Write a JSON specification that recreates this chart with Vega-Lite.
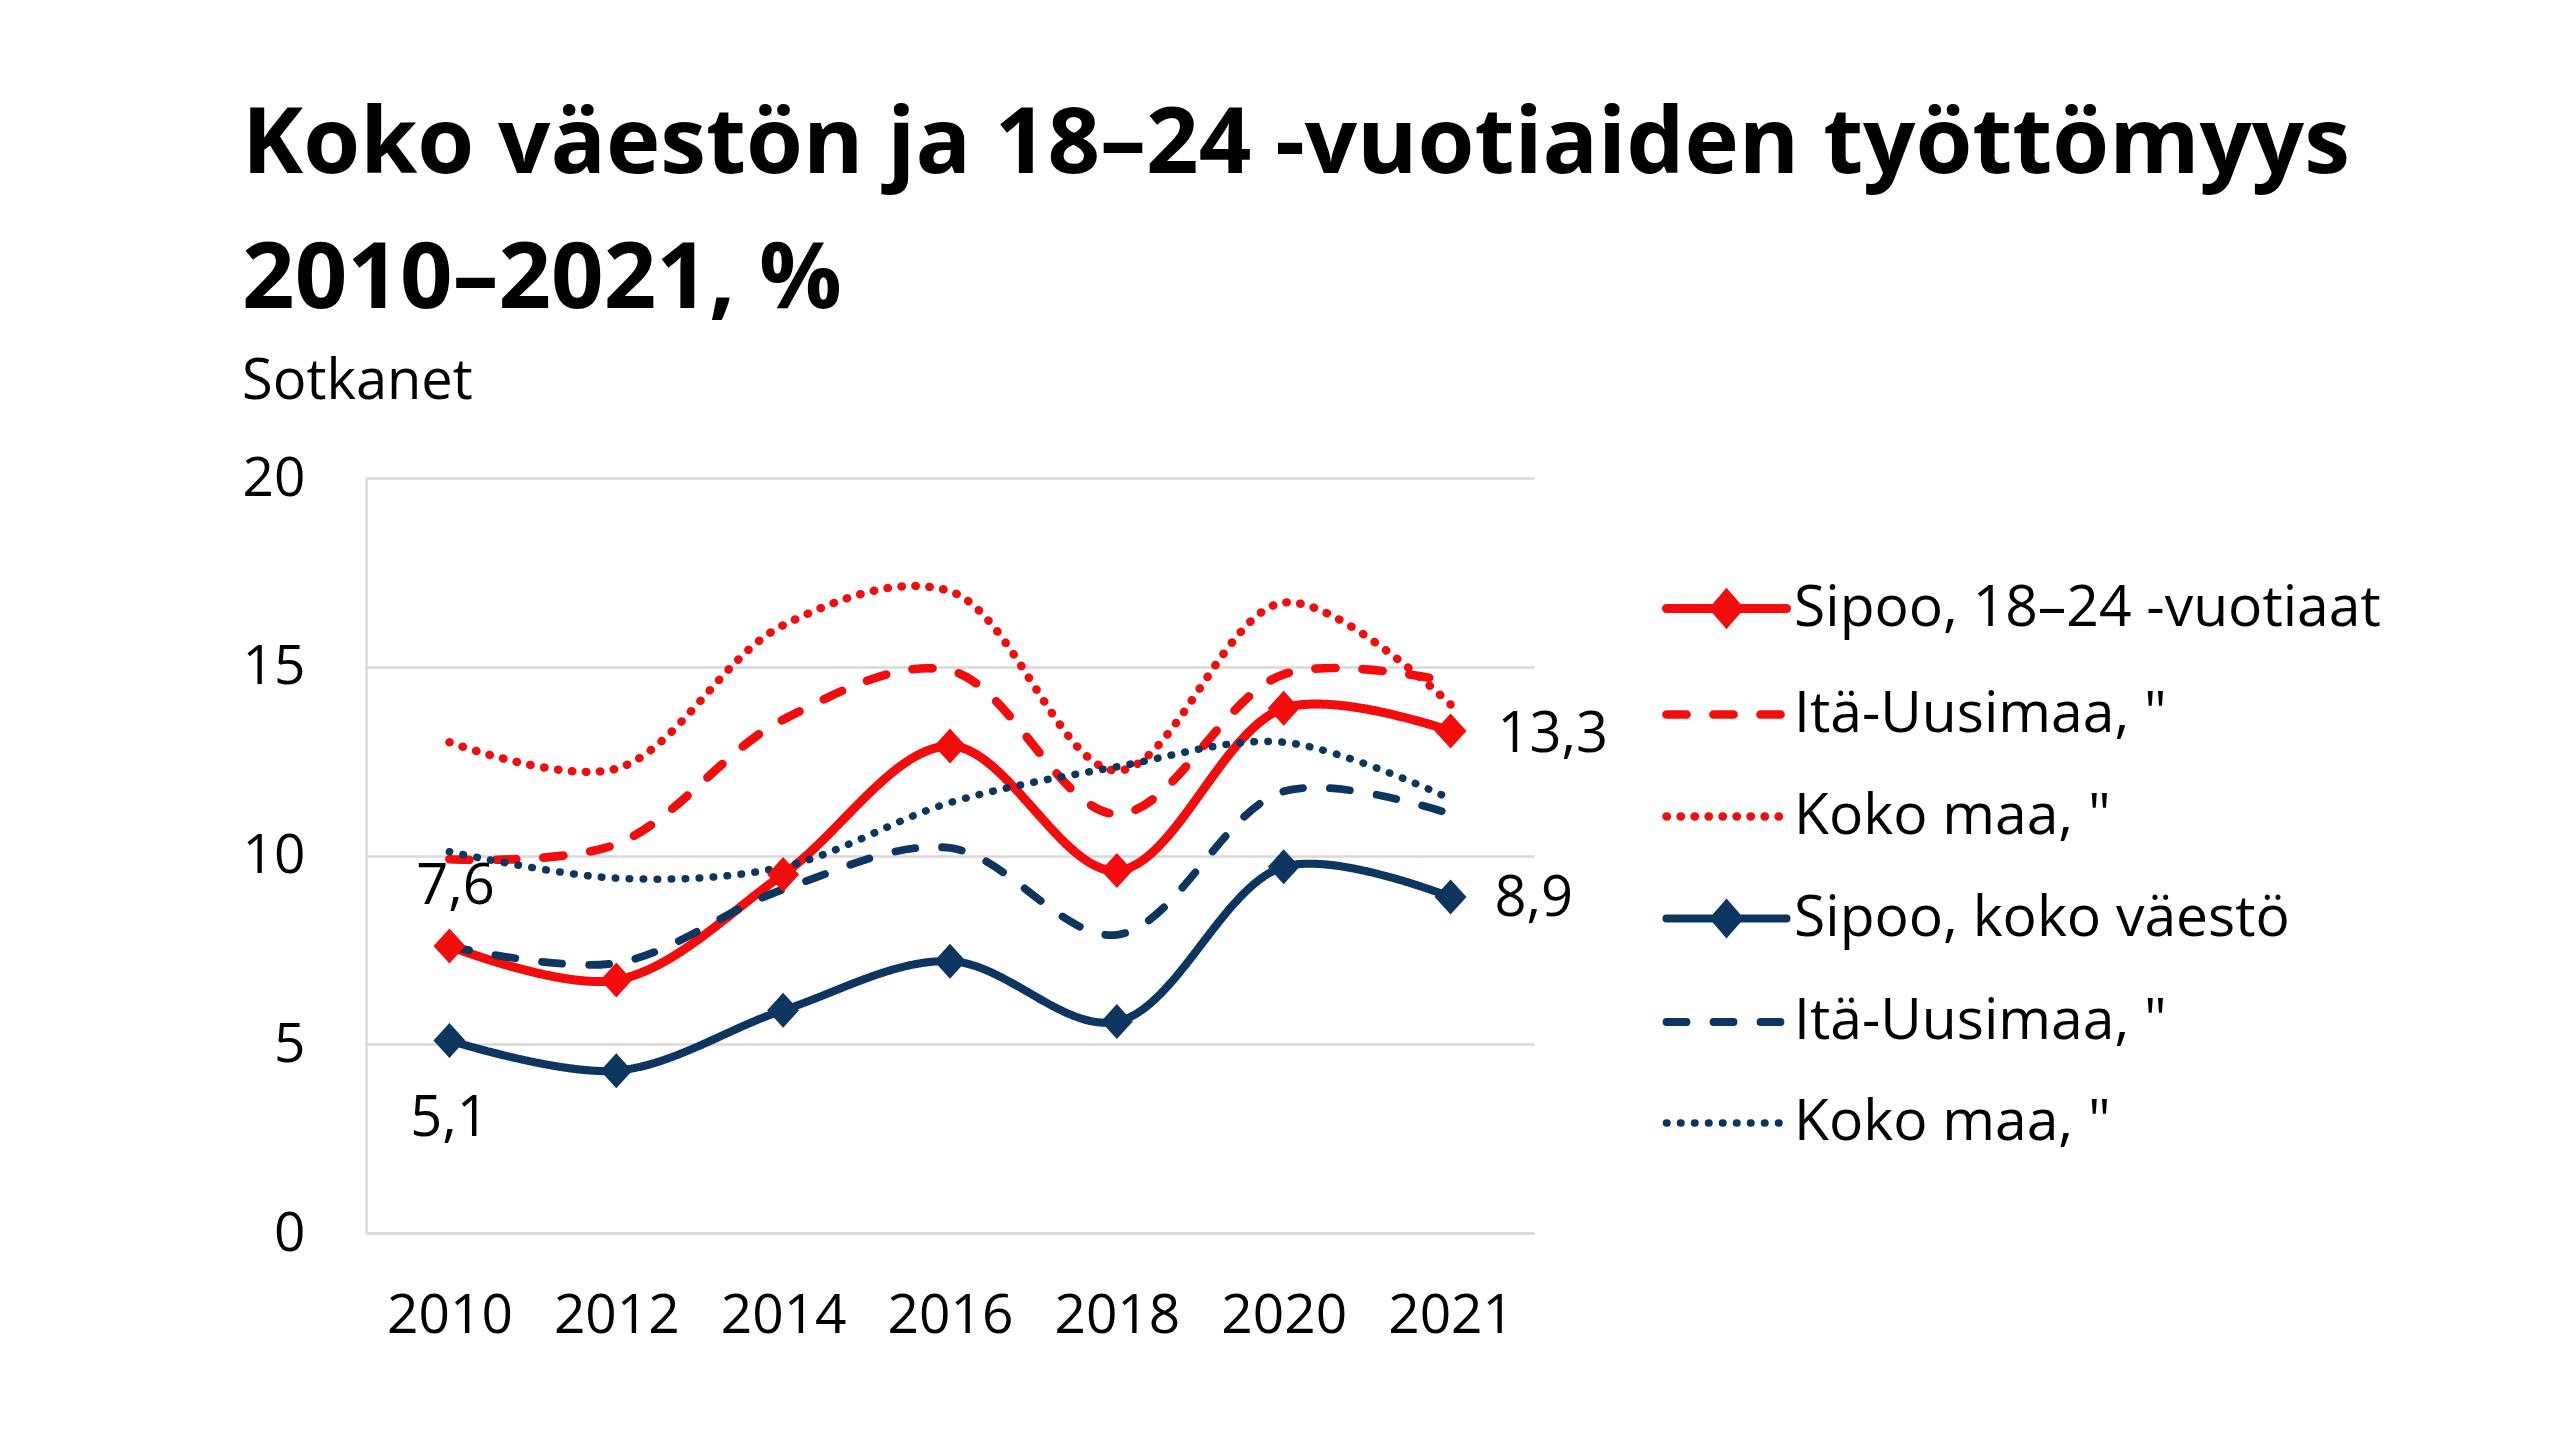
{
  "$schema": "https://vega.github.io/schema/vega-lite/v6.json",
  "background": "white",
  "padding": {"left": 242, "top": 99, "right": 40, "bottom": 40},
  "width": 1168,
  "height": 755,
  "title": {
    "text": ["Koko väestön ja 18–24 -vuotiaiden työttömyys", "2010–2021, %"],
    "subtitle": "Sotkanet",
    "anchor": "start",
    "frame": "bounds",
    "font": "Open Sans",
    "fontSize": 92,
    "fontWeight": "bold",
    "lineHeight": 135,
    "color": "#000000",
    "subtitleFont": "Open Sans",
    "subtitleFontSize": 56,
    "subtitleColor": "#000000",
    "subtitlePadding": 28,
    "offset": 40
  },
  "config": {
    "font": "Open Sans",
    "view": {"stroke": null},
    "locale": {
      "number": {"decimal": ",", "thousands": " ", "grouping": [3], "currency": ["", " €"]}
    },
    "axis": {
      "labelFont": "Open Sans",
      "labelFontSize": 55,
      "labelColor": "#000000",
      "ticks": false,
      "domainColor": "#D9D9D9",
      "domainWidth": 2.5,
      "gridColor": "#D9D9D9",
      "gridWidth": 2.5,
      "title": null
    },
    "legend": {
      "labelFont": "Open Sans",
      "labelFontSize": 57,
      "labelColor": "#000000",
      "symbolStrokeWidth": 8,
      "symbolSize": 3600,
      "rowPadding": 39,
      "labelOffset": 33,
      "padding": 96,
      "offset": 62,
      "labelLimit": 1000
    }
  },
  "data": {
    "values": [
      {"year": "2010", "series": "Sipoo 18–24", "value": 7.6},
      {"year": "2012", "series": "Sipoo 18–24", "value": 6.7},
      {"year": "2014", "series": "Sipoo 18–24", "value": 9.5},
      {"year": "2016", "series": "Sipoo 18–24", "value": 12.9},
      {"year": "2018", "series": "Sipoo 18–24", "value": 9.6},
      {"year": "2020", "series": "Sipoo 18–24", "value": 13.9},
      {"year": "2021", "series": "Sipoo 18–24", "value": 13.3},
      {"year": "2010", "series": "Itä-Uusimaa 18–24", "value": 9.9},
      {"year": "2012", "series": "Itä-Uusimaa 18–24", "value": 10.3},
      {"year": "2014", "series": "Itä-Uusimaa 18–24", "value": 13.6},
      {"year": "2016", "series": "Itä-Uusimaa 18–24", "value": 14.9},
      {"year": "2018", "series": "Itä-Uusimaa 18–24", "value": 11.1},
      {"year": "2020", "series": "Itä-Uusimaa 18–24", "value": 14.8},
      {"year": "2021", "series": "Itä-Uusimaa 18–24", "value": 14.6},
      {"year": "2010", "series": "Koko maa 18–24", "value": 13.0},
      {"year": "2012", "series": "Koko maa 18–24", "value": 12.3},
      {"year": "2014", "series": "Koko maa 18–24", "value": 16.1},
      {"year": "2016", "series": "Koko maa 18–24", "value": 17.0},
      {"year": "2018", "series": "Koko maa 18–24", "value": 12.25},
      {"year": "2020", "series": "Koko maa 18–24", "value": 16.7},
      {"year": "2021", "series": "Koko maa 18–24", "value": 14.0},
      {"year": "2010", "series": "Sipoo koko väestö", "value": 5.1},
      {"year": "2012", "series": "Sipoo koko väestö", "value": 4.3},
      {"year": "2014", "series": "Sipoo koko väestö", "value": 5.9},
      {"year": "2016", "series": "Sipoo koko väestö", "value": 7.2},
      {"year": "2018", "series": "Sipoo koko väestö", "value": 5.6},
      {"year": "2020", "series": "Sipoo koko väestö", "value": 9.7},
      {"year": "2021", "series": "Sipoo koko väestö", "value": 8.9},
      {"year": "2010", "series": "Itä-Uusimaa koko väestö", "value": 7.6},
      {"year": "2012", "series": "Itä-Uusimaa koko väestö", "value": 7.15},
      {"year": "2014", "series": "Itä-Uusimaa koko väestö", "value": 9.1},
      {"year": "2016", "series": "Itä-Uusimaa koko väestö", "value": 10.2},
      {"year": "2018", "series": "Itä-Uusimaa koko väestö", "value": 7.9},
      {"year": "2020", "series": "Itä-Uusimaa koko väestö", "value": 11.7},
      {"year": "2021", "series": "Itä-Uusimaa koko väestö", "value": 11.1},
      {"year": "2010", "series": "Koko maa koko väestö", "value": 10.1},
      {"year": "2012", "series": "Koko maa koko väestö", "value": 9.4},
      {"year": "2014", "series": "Koko maa koko väestö", "value": 9.7},
      {"year": "2016", "series": "Koko maa koko väestö", "value": 11.4},
      {"year": "2018", "series": "Koko maa koko väestö", "value": 12.35},
      {"year": "2020", "series": "Koko maa koko väestö", "value": 13.0},
      {"year": "2021", "series": "Koko maa koko väestö", "value": 11.5}
    ]
  },
  "encoding": {
    "x": {
      "field": "year",
      "type": "ordinal",
      "scale": {"type": "point", "padding": 0.5},
      "axis": {"labelAngle": 0, "labelPadding": 56, "grid": false}
    },
    "y": {
      "field": "value",
      "type": "quantitative",
      "scale": {"domain": [0, 20], "nice": false},
      "axis": {"values": [0, 5, 10, 15, 20], "labelPadding": 61, "grid": true}
    }
  },
  "layer": [
    {
      "mark": {"type": "line", "interpolate": "catmull-rom", "strokeCap": "round", "strokeJoin": "round"},
      "encoding": {
        "color": {
          "field": "series",
          "type": "nominal",
          "scale": {
            "domain": ["Sipoo 18–24", "Itä-Uusimaa 18–24", "Koko maa 18–24", "Sipoo koko väestö", "Itä-Uusimaa koko väestö", "Koko maa koko väestö"],
            "range": ["#F20C0C", "#F20C0C", "#F20C0C", "#0C355F", "#0C355F", "#0C355F"]
          },
          "legend": {
            "title": null,
            "labelExpr": "datum.value == 'Sipoo 18–24' ? 'Sipoo, 18–24 -vuotiaat' : datum.value == 'Sipoo koko väestö' ? 'Sipoo, koko väestö' : indexof(datum.value, 'Itä') == 0 ? 'Itä-Uusimaa, \"' : 'Koko maa, \"'",
            "encode": {
              "symbols": {
                "update": {
                  "shape": {"signal": "indexof(datum.value, 'Sipoo') == 0 ? 'M-2,0H2M0,-0.46L0.4,0L0,0.46L-0.4,0Z' : 'M-2,0H2'"},
                  "fill": {"scale": "color", "field": "value"},
                  "strokeCap": {"value": "round"}
                }
              }
            }
          }
        },
        "strokeDash": {
          "field": "series",
          "type": "nominal",
          "scale": {
            "domain": ["Sipoo 18–24", "Itä-Uusimaa 18–24", "Koko maa 18–24", "Sipoo koko väestö", "Itä-Uusimaa koko väestö", "Koko maa koko väestö"],
            "range": [[1, 0], [20, 27], [0.5, 13.5], [1, 0], [20, 27], [0.5, 13.5]]
          },
          "legend": {"title": null}
        },
        "strokeWidth": {
          "field": "series",
          "type": "nominal",
          "scale": {
            "domain": ["Sipoo 18–24", "Itä-Uusimaa 18–24", "Koko maa 18–24", "Sipoo koko väestö", "Itä-Uusimaa koko väestö", "Koko maa koko väestö"],
            "range": [9, 7.5, 6.5, 9, 7.5, 6.5]
          },
          "legend": null
        }
      }
    },
    {
      "transform": [{"filter": "datum.series == 'Sipoo 18–24'"}],
      "mark": {"type": "point", "shape": "M0,-1L0.91,0L0,1L-0.91,0Z", "filled": true, "size": 1225, "opacity": 1, "color": "#F20C0C"}
    },
    {
      "transform": [{"filter": "datum.series == 'Sipoo koko väestö'"}],
      "mark": {"type": "point", "shape": "M0,-1L0.91,0L0,1L-0.91,0Z", "filled": true, "size": 1225, "opacity": 1, "color": "#0C355F"}
    },
    {
      "transform": [{"filter": "datum.series == 'Sipoo 18–24' && datum.year == '2010'"}],
      "mark": {"type": "text", "fontSize": 56, "color": "#000000", "dx": 6, "dy": -59, "align": "center", "baseline": "middle"},
      "encoding": {"text": {"field": "value", "type": "quantitative", "format": ".1f"}}
    },
    {
      "transform": [{"filter": "datum.series == 'Sipoo koko väestö' && datum.year == '2010'"}],
      "mark": {"type": "text", "fontSize": 56, "color": "#000000", "dx": 0, "dy": 79, "align": "center", "baseline": "middle"},
      "encoding": {"text": {"field": "value", "type": "quantitative", "format": ".1f"}}
    },
    {
      "transform": [{"filter": "datum.series == 'Sipoo 18–24' && datum.year == '2021'"}],
      "mark": {"type": "text", "fontSize": 56, "color": "#000000", "dx": 47, "dy": 4, "align": "left", "baseline": "middle"},
      "encoding": {"text": {"field": "value", "type": "quantitative", "format": ".1f"}}
    },
    {
      "transform": [{"filter": "datum.series == 'Sipoo koko väestö' && datum.year == '2021'"}],
      "mark": {"type": "text", "fontSize": 56, "color": "#000000", "dx": 44, "dy": 2, "align": "left", "baseline": "middle"},
      "encoding": {"text": {"field": "value", "type": "quantitative", "format": ".1f"}}
    }
  ]
}
